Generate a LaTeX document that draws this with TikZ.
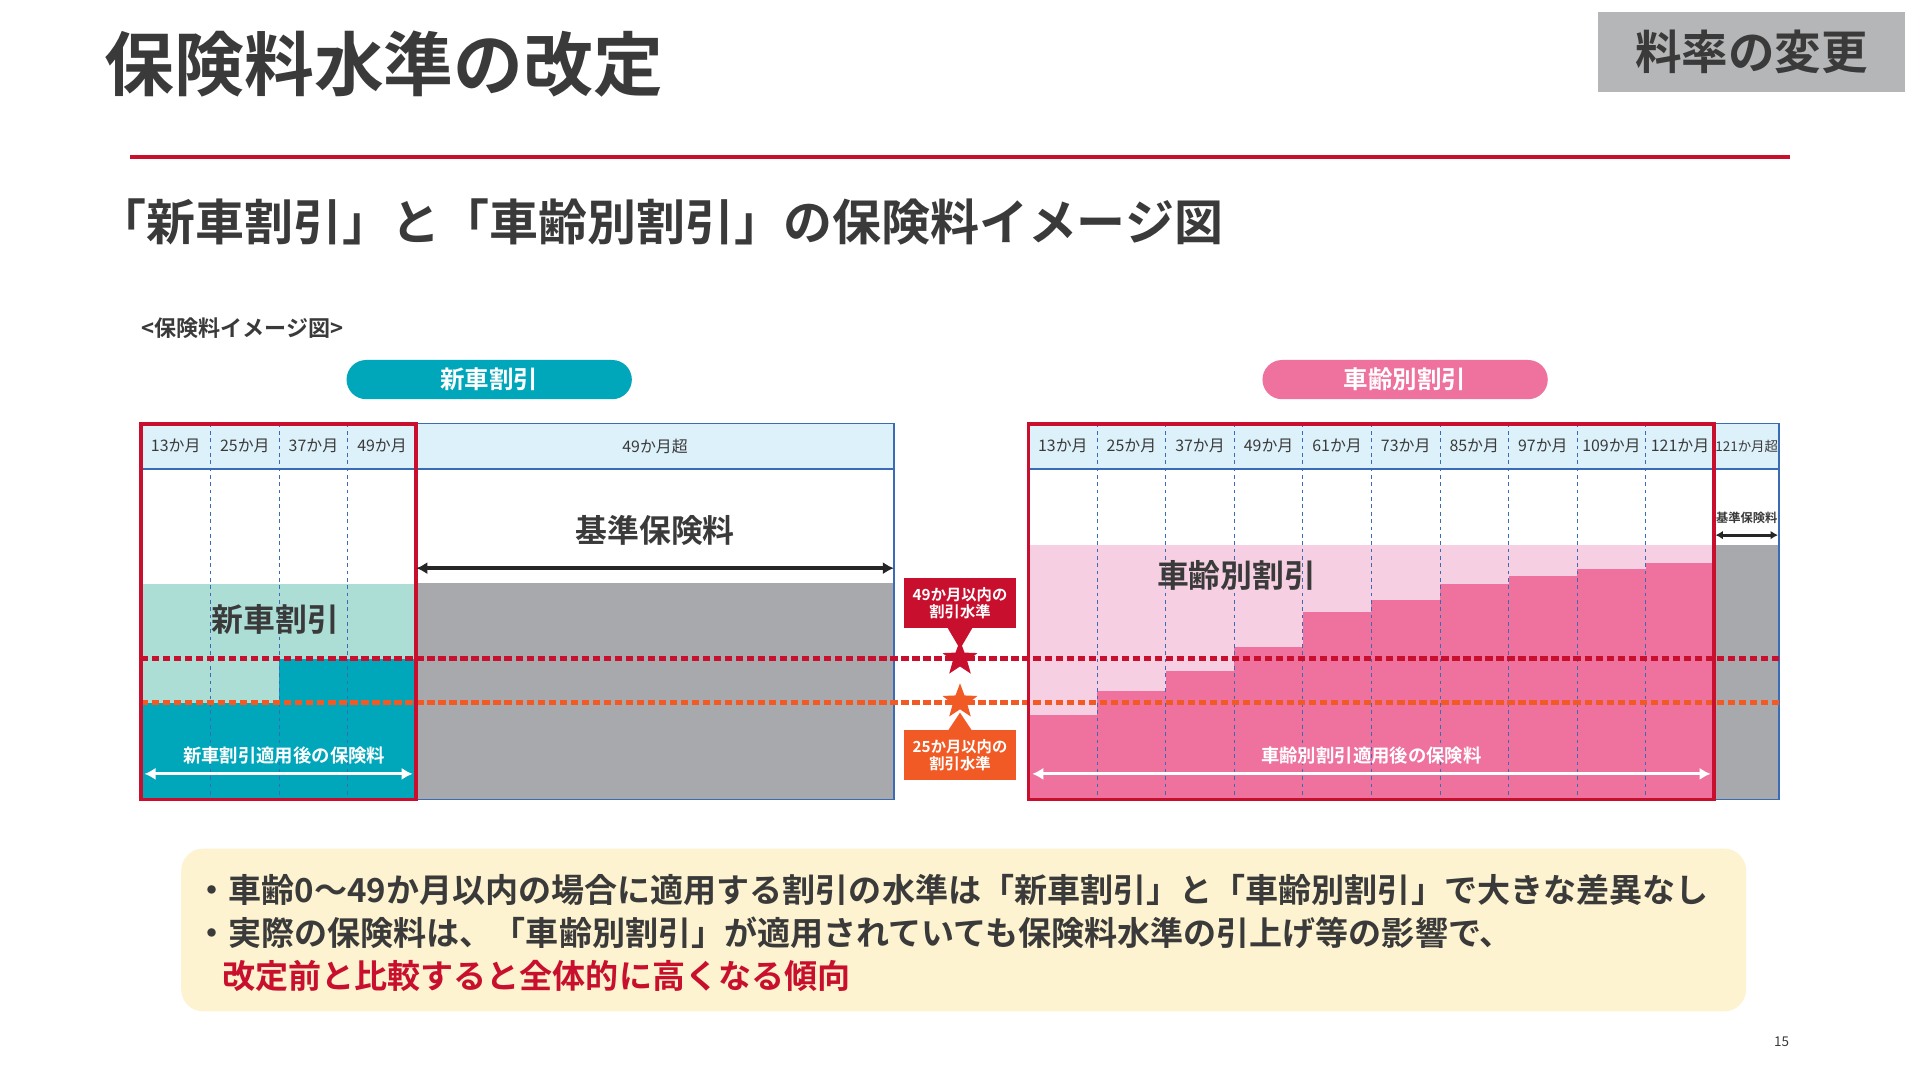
\documentclass[tikz,border=0pt]{standalone}
\usepackage{fontspec}
\setmainfont{Noto Sans CJK JP}[BoldFont={* Bold}]
\usetikzlibrary{shapes.geometric,arrows.meta}
\definecolor{myred}{HTML}{C8102E}
\definecolor{myorange}{HTML}{F15A24}
\definecolor{teal1}{HTML}{00A7BA}
\definecolor{teal2}{HTML}{ACDED6}
\definecolor{pink1}{HTML}{EE719E}
\definecolor{pink2}{HTML}{F6D0E2}
\definecolor{hdr}{HTML}{DDF1FA}
\definecolor{blu}{HTML}{3A6BB5}
\definecolor{gry}{HTML}{A7A9AC}
\definecolor{dk}{HTML}{3A3A3A}
\definecolor{note}{HTML}{FDF3D0}
\tikzset{
 hlab/.style={font=\fontsize{13}{13}\selectfont,text=dk},
 coldash/.style={blu,dashed,line width=0.8pt},
 lvl/.style={line width=4pt,dash pattern=on 6pt off 3pt},
 pill/.style={rounded corners=16pt,minimum width=233pt,minimum height=32pt,text=white,font=\bfseries\fontsize{20}{20}\selectfont},
 dbl/.style={line width=3pt,{Latex[length=9pt,width=10pt]}-{Latex[length=9pt,width=10pt]}},
 callout/.style={text=white,font=\bfseries\fontsize{12.5}{14}\selectfont,align=center,minimum width=92pt,minimum height=41pt,inner sep=1pt},
 mystar/.style={star,star points=5,star point ratio=2.4,minimum size=30pt,inner sep=0pt}
}
\begin{document}
\begin{tikzpicture}[x=1pt,y=-1pt]
\useasboundingbox (0,0) rectangle (1568,882);
\fill[white] (0,0) rectangle (1568,882);
% header
\node[anchor=west,font=\bfseries\fontsize{57}{57}\selectfont,text=dk] (title) at (82,52) {保険料水準の改定};
\node[fill=gry!85,minimum width=251pt,minimum height=65pt,font=\bfseries\fontsize{38}{38}\selectfont,text=dk] (tag) at (1430.5,42.5) {料率の変更};
\coordinate (rl) at (106,128); \coordinate (rr) at (1462,128);
\draw[myred,line width=3pt] (rl) -- (rr);
\node[anchor=west,font=\bfseries\fontsize{40}{40}\selectfont,text=dk] (sub) at (76,181) {「新車割引」と「車齢別割引」の保険料イメージ図};
\node[anchor=west,font=\bfseries\fontsize{18}{18}\selectfont,text=dk] (cap) at (112,268) {<保険料イメージ図>};
\node[pill,fill=teal1] (p1) at (399.5,310) {新車割引};
\node[pill,fill=pink1] (p2) at (1147.5,310) {車齢別割引};
% left chart fills
\fill[teal2] (115,477) rectangle (340,653);
\fill[teal1] (115,574) rectangle (228,653);
\fill[teal1] (228,538) rectangle (340,653);
\fill[gry] (340,476) rectangle (730,653);
\fill[hdr] (115,346) rectangle (730,383);
\foreach \x in {172,228,284} \draw[coldash] (\x,346) -- (\x,653);
\draw[blu,line width=1.2pt] (115,346) rectangle (730,653);
\draw[blu,line width=1.2pt] (115,383) -- (730,383);
\foreach \x/\t in {143.5/13,200/25,256/37,312/49} \node[hlab] at (\x,364.5) {\t か月};
\node[hlab] (h49) at (535,364.5) {49か月超};
% right chart fills
\fill[pink2] (840,445) rectangle (1400,653);
\foreach \a/\h in {840/584,896/564,952/548,1008/528,1064/500,1120/490,1176/477,1232/470,1288/465,1344/460}
  \fill[pink1] (\a,\h) rectangle ({\a+56},653);
\fill[gry] (1400,445) rectangle (1453,653);
\fill[hdr] (840,346) rectangle (1453,383);
\foreach \x in {896,952,...,1344} \draw[coldash] (\x,346) -- (\x,653);
\draw[blu,line width=1.2pt] (840,346) rectangle (1453,653);
\draw[blu,line width=1.2pt] (840,383) -- (1453,383);
\foreach \i/\t in {0/13,1/25,2/37,3/49,4/61,5/73,6/85,7/97,8/109,9/121} \node[hlab,inner sep=0pt] at ({868+56*\i},364.5) {\t か月};
\node[inner sep=0pt,text=dk,font=\fontsize{11}{11}\selectfont] (h121) at (1426.5,364.5) {121か月超};
% level lines
\coordinate (r1) at (115,538); \coordinate (r2) at (1453,538);
\coordinate (o1) at (115,574); \coordinate (o2) at (1453,574);
\draw[lvl,myred] (r1) -- (r2);
\draw[lvl,myorange] (o1) -- (o2);
% red boxes
\draw[myred,line width=3pt] (115,346) rectangle (340,653);
\draw[myred,line width=3pt] (840,346) rectangle (1400,653);
% labels and arrows
\node[font=\bfseries\fontsize{26}{26}\selectfont,text=dk] (kj) at (535,433) {基準保険料};
\coordinate (ka) at (340,464); \coordinate (kb) at (730,464);
\draw[dbl,black!85] (ka) -- (kb);
\node[font=\bfseries\fontsize{26}{26}\selectfont,text=dk] (sw) at (225,506) {新車割引};
\node[font=\bfseries\fontsize{15}{15}\selectfont,text=white] (sa) at (232,617) {新車割引適用後の保険料};
\coordinate (wa) at (118,632); \coordinate (wb) at (337,632);
\draw[dbl,white,line width=2.5pt] (wa) -- (wb);
\node[font=\bfseries\fontsize{26}{26}\selectfont,text=dk] (sr) at (1010,470) {車齢別割引};
\node[font=\bfseries\fontsize{15}{15}\selectfont,text=white] (sra) at (1120,617) {車齢別割引適用後の保険料};
\coordinate (pa) at (843,632); \coordinate (pb) at (1397,632);
\draw[dbl,white,line width=2.5pt] (pa) -- (pb);
\node[font=\bfseries\fontsize{10}{10}\selectfont,text=dk] (kj2) at (1426.5,423) {基準保険料};
\coordinate (ga) at (1401,437); \coordinate (gb) at (1452,437);
\draw[black!85,line width=2.5pt,{Latex[length=6pt,width=7pt]}-{Latex[length=6pt,width=7pt]}] (ga) -- (gb);
% callouts
\fill[myred] (774,513) -- (794,513) -- (784,530) -- cycle;
\node[callout,fill=myred] (c1) at (784,492.5) {49か月以内の\\割引水準};
\fill[myorange] (774,597) -- (794,597) -- (784,582) -- cycle;
\node[callout,fill=myorange] (c2) at (784,616.5) {25か月以内の\\割引水準};
\node[mystar,fill=myred] (s1) at (784,538) {};
\node[mystar,fill=myorange] (s2) at (784,573) {};
% note
\node[fill=note,rounded corners=18pt,minimum width=1278pt,minimum height=133pt] (nb) at (787,759.5) {};
\node[anchor=west,font=\bfseries\fontsize{27}{27}\selectfont,text=dk] (n1) at (156,727) {・車齢0～49か月以内の場合に適用する割引の水準は「新車割引」と「車齢別割引」で大きな差異なし};
\node[anchor=west,font=\bfseries\fontsize{27}{27}\selectfont,text=dk] (n2) at (156,762) {・実際の保険料は、「車齢別割引」が適用されていても保険料水準の引上げ等の影響で、};
\node[anchor=west,font=\bfseries\fontsize{27}{27}\selectfont,text=myred] (n3) at (178,797) {改定前と比較すると全体的に高くなる傾向};
\node[font=\fontsize{11}{11}\selectfont,text=dk] (pg) at (1455,851) {15};
\end{tikzpicture}
\end{document}
